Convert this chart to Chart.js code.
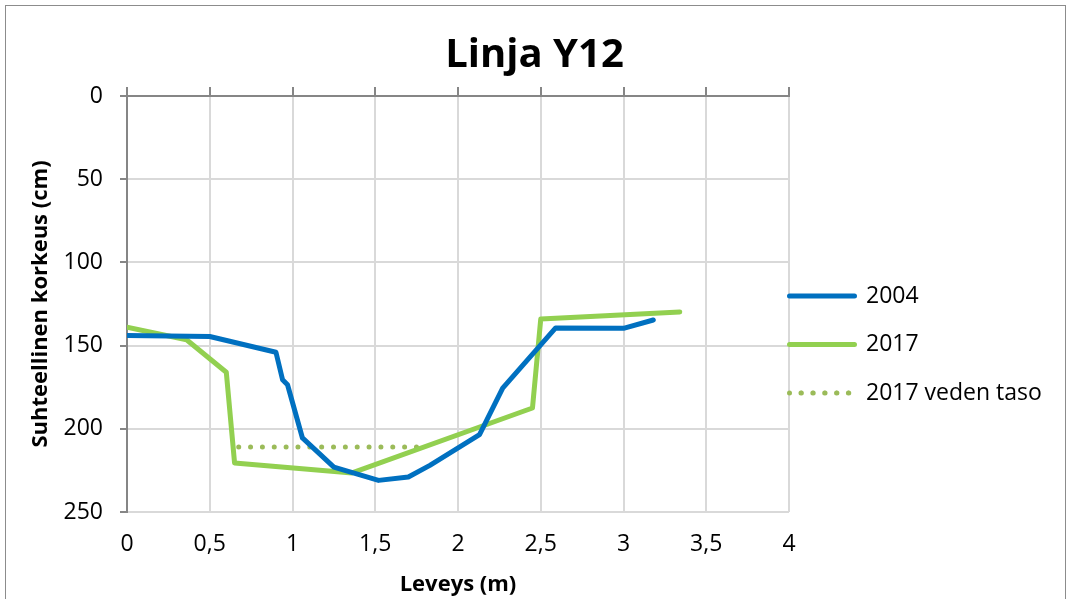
<!DOCTYPE html>
<html><head><meta charset="utf-8">
<script src="https://cdn.jsdelivr.net/npm/chart.js@4"></script>
<style>html,body{margin:0;padding:0;background:#fff}canvas{display:block}</style>
</head><body>
<canvas id="c" width="1069" height="599"></canvas>
<script>
// ---- data ----
const title = 'Linja Y12';
const seriesNames = ['2004', '2017', '2017 veden taso'];
const x2004 = [0, 0.5, 0.9, 0.94, 0.97, 1.06, 1.25, 1.52, 1.70, 1.83, 2.13, 2.27, 2.59, 3.0, 3.18];
const y2004 = [144, 144.5, 154, 170.5, 173.5, 205.5, 223, 231, 229, 222, 203.5, 175.5, 139.4, 139.6, 134.6];
const x2017 = [0, 0.36, 0.60, 0.65, 1.36, 2.45, 2.50, 3.34];
const y2017 = [139, 146.5, 166, 220.5, 226.5, 187.5, 134, 129.8];
const xWater = [0.675, 1.75];
const yWater = [211, 211];
const xTickValues = [0, 0.5, 1, 1.5, 2, 2.5, 3, 3.5, 4];
const xTickLabels = ['0', '0,5', '1', '1,5', '2', '2,5', '3', '3,5', '4'];
const yTickValues = [0, 50, 100, 150, 200, 250];
const yTickLabels = ['0', '50', '100', '150', '200', '250'];
const xTitle = 'Leveys (m)';
const yTitle = 'Suhteellinen korkeus (cm)';

const pts = (xs, ys) => xs.map((x, i) => ({x: x, y: ys[i]}));

Chart.defaults.font.family = "'Open Sans', sans-serif";
Chart.defaults.color = '#000';

const LIGHT = '#d9d9d9';
const DARK = '#868686';

const framePlugin = {
  id: 'frame',
  beforeDraw(chart) {
    const ctx = chart.ctx;
    ctx.save();
    ctx.fillStyle = '#fff';
    ctx.fillRect(0, 0, chart.width, chart.height);
    ctx.strokeStyle = '#8c8c8c';
    ctx.lineWidth = 1;
    ctx.strokeRect(5.5, 5.5, 1060, 700);
    ctx.restore();
  },
  afterLayout(chart) {
    const lg = chart.legend;
    if (!lg) return;
    const P = lg.options.labels.padding;
    lg.left = 789.5 - P; lg.right = chart.width; lg.width = lg.right - lg.left;
    lg.top = 284.5 - P; lg.bottom = chart.height; lg.height = lg.bottom - lg.top;
  }
};

const lineDs = (label, data, color, extra) => Object.assign({
  label: label, data: data, borderColor: color, backgroundColor: color,
  borderWidth: 5, showLine: true, pointRadius: 0, pointHoverRadius: 0,
  borderCapStyle: 'round', borderJoinStyle: 'round', tension: 0
}, extra || {});

new Chart(document.getElementById('c'), {
  type: 'scatter',
  data: {
    datasets: [
      lineDs(seriesNames[0], pts(x2004, y2004), '#0070C0'),
      lineDs(seriesNames[1], pts(x2017, y2017), '#92D050'),
      lineDs(seriesNames[2], pts(xWater, yWater), '#9BBB59', {borderDash: [0, 11.85]})
    ]
  },
  options: {
    responsive: false,
    animation: false,
    events: [],
    layout: {padding: 0},
    plugins: {
      tooltip: {enabled: false},
      title: {
        display: true, text: title, color: '#000',
        font: {size: 40, weight: 'bold'},
        padding: {top: 32, bottom: 7}
      },
      legend: {
        display: true, position: 'right', align: 'start', maxWidth: 280,
        labels: {font: {size: 23}, color: '#000', boxWidth: 65, boxHeight: 0, padding: 25.5}
      }
    },
    scales: {
      x: {
        type: 'linear', position: 'bottom', min: 0, max: 4,
        afterBuildTicks: s => { s.ticks = xTickValues.map(v => ({value: v})); },
        afterFit: s => { s.height = 87; },
        ticks: {font: {size: 23}, color: '#000', padding: 19, maxRotation: 0, autoSkip: false,
                callback: (v, i) => xTickLabels[i]},
        grid: {color: c => (c.tick && c.tick.value === 0) ? 'rgba(0,0,0,0)' : LIGHT,
               lineWidth: 2, drawTicks: false},
        border: {display: false},
        title: {display: true, text: xTitle, color: '#000', font: {size: 22, weight: 'bold'},
                padding: {top: 0, bottom: 1}}
      },
      x2: {
        type: 'linear', position: 'top', min: 0, max: 4,
        afterBuildTicks: s => { s.ticks = xTickValues.map(v => ({value: v})); },
        afterFit: s => { s.height = 9; },
        ticks: {display: false},
        grid: {drawOnChartArea: false, drawTicks: true, tickLength: 9, tickColor: DARK, color: DARK, lineWidth: 2},
        border: {display: true, color: DARK, width: 2}
      },
      y: {
        type: 'linear', position: 'left', reverse: true, min: 0, max: 250,
        afterBuildTicks: s => { s.ticks = yTickValues.map(v => ({value: v})); },
        afterFit: s => { s.width = 127; },
        ticks: {font: {size: 23}, color: '#000', padding: 17,
                callback: (v, i) => yTickLabels[i]},
        grid: {color: c => (c.tick && c.tick.value === 0) ? 'rgba(0,0,0,0)' : LIGHT,
               lineWidth: 2, tickLength: 7, tickColor: DARK, drawTicks: true},
        border: {display: true, color: DARK, width: 2},
        title: {display: true, text: yTitle, color: '#000', font: {size: 22, weight: 'bold'},
                padding: {top: 28, bottom: 0}}
      }
    }
  },
  plugins: [framePlugin]
});
</script>
</body></html>
